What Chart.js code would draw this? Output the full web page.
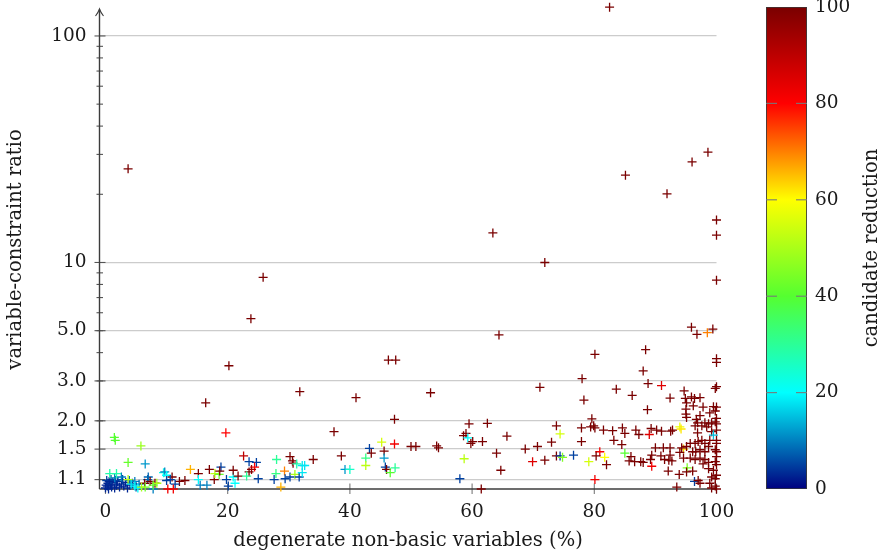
<!DOCTYPE html>
<html><head><meta charset="utf-8">
<script src="https://cdn.jsdelivr.net/npm/chart.js@4.4.1/dist/chart.umd.min.js"></script>
<style>
html,body{margin:0;padding:0;background:#fff;}
#wrap{position:relative;width:879px;height:559px;overflow:hidden;}
canvas{position:absolute;left:0;top:0;}
</style></head><body>
<div id="wrap"><canvas id="main" width="879" height="559"></canvas><canvas id="cb" width="879" height="559"></canvas></div>
<script>
// ---- data (degenerate non-basic variables %, variable-constraint ratio, candidate reduction) ----
const xValues = [
 3.7,82.5,63.4,71.9,98.6,96.0,85.1,91.9,100,100,100,95.9,96.8,98.5,99.4,88.4,88.0,100,100,25.8,23.8,20.2,16.4,19.7,31.8,64.4,80.1,46.3,47.5,53.2,41.0,71.1,78.0,78.3,
 37.4,38.6,39.2,40.0,42.6,42.6,43.2,43.5,45.2,45.6,45.6,45.8,46.0,46.6,47.4,47.3,47.3,50.0,50.8,54.2,54.5,58.0,58.6,59.0,59.3,58.7,59.5,59.8,60.1,61.7,61.5,62.5,64.0,64.7,65.7,68.7,69.9,70.7,71.9,73.0,73.8,73.8,74.4,74.4,74.8,76.6,77.9,77.9,79.1,79.6,79.4,79.9,80.1,81.5,80.9,80.3,81.7,82.0,80.1,
 83.0,83.6,83.2,84.5,84.6,85.0,85.0,86.2,85.7,86.0,86.6,86.8,87.3,87.6,88.0,88.8,88.7,89.0,89.3,89.4,89.2,89.4,90.0,90.2,91.0,91.0,90.9,91.3,91.5,92.4,92.5,92.8,92.4,92.2,92.7,92.4,92.1,93.9,93.5,94.0,94.2,94.6,94.3,95.1,94.0,94.6,95.2,96.1,95.1,96.4,97.0,97.3,
 94.7,94.9,95.9,96.4,97.3,95.1,96.2,97.8,95.0,99.5,100,98.9,97.3,95.0,95.1,100,99.8,96.7,96.9,98.1,98.7,99.2,99.8,100,96.5,97.6,98.4,96.9,99.2,100,99.8,100,99.5,
 95.7,96.5,97.0,97.6,96.1,96.6,97.3,98.1,98.1,98.7,98.9,100,100,99.8,100,100,99.8,100,99.5,100,99.2,99.8,98.9,99.8,99.2,100,95.7,96.5,97.3,98.1,97.8,98.7,98.7,
 0.0,0.3,0.5,0.8,1.0,1.2,0.4,1.5,1.8,2.0,2.3,2.6,3.0,3.3,3.6,4.0,0.2,0.9,1.6,2.8,4.4,5.0,3.9,0.1,0.6,1.5,2.6,4.8,5.5,6.9,7.0,7.8,0.7,1.8,3.7,6.4,7.3,8.1,6.5,8.4,7.8,4.8,5.3,4.2,5.9,
 1.45,1.6,5.8,3.7,6.5,13.9,15.2,17.0,17.8,17.9,18.6,18.9,18.7,13.0,12.1,11.4,9.5,9.7,10.0,10.9,10.6,10.0,10.2,11.1,15.5,16.6,15.2,
 19.8,20.1,21.2,20.9,21.7,20.9,22.6,23.5,24.7,24.4,23.9,23.5,23.1,25.0,28.0,27.9,27.6,29.3,28.7,29.4,30.2,30.6,30.7,30.2,31.0,31.7,31.3,32.2,32.6,32.2,34.0
];
const yValues = [
 25.9,134,13.5,10.0,30.7,27.8,24.3,20.1,15.4,13.2,8.35,5.18,4.82,4.90,5.08,4.12,3.32,3.76,3.62,8.6,5.65,3.50,2.40,1.77,2.69,4.79,3.93,3.71,3.71,2.66,2.53,2.81,3.07,2.47,
 1.79,1.40,1.22,1.22,1.37,1.27,1.51,1.44,1.61,1.47,1.37,1.25,1.22,1.18,1.24,2.03,1.58,1.54,1.54,1.55,1.52,1.11,1.72,1.76,1.68,1.36,1.94,1.59,1.62,1.62,1.00,1.95,1.44,1.21,1.71,1.50,1.32,1.54,1.34,1.61,1.90,1.40,1.75,1.40,1.38,1.41,1.86,1.62,1.32,2.04,1.88,1.90,1.86,1.82,1.46,1.40,1.38,1.28,1.10,
 1.81,2.76,1.64,1.57,1.86,1.76,1.44,2.59,1.33,1.39,1.32,1.82,1.74,1.32,1.31,2.92,2.24,1.74,1.85,1.41,1.35,1.26,1.52,1.82,2.86,1.80,1.40,1.52,1.35,2.52,1.80,1.82,1.52,1.34,1.33,1.41,1.20,1.16,1.02,1.88,1.84,1.50,1.52,1.54,1.45,1.37,1.24,1.20,1.19,1.08,1.09,1.06,
 2.71,2.51,2.55,2.51,2.53,2.40,2.33,2.30,2.25,2.31,2.30,2.17,2.11,2.14,2.07,2.05,2.21,2.03,1.96,1.96,1.94,1.96,1.98,1.94,1.90,1.90,1.88,1.77,1.79,1.82,2.78,2.83,1.73,
 1.59,1.59,1.62,1.64,1.46,1.46,1.49,1.46,1.59,1.54,1.64,1.64,1.59,1.49,1.46,1.39,1.32,1.28,1.21,1.15,1.13,1.11,1.06,1.03,1.01,1.00,1.37,1.35,1.37,1.35,1.29,1.31,1.23,
 1.01,1.03,1.00,1.05,1.02,1.07,1.06,1.01,1.04,1.08,1.02,1.05,1.03,1.07,1.01,1.04,1.09,1.10,1.09,1.10,1.06,1.02,1.09,1.04,1.08,1.12,1.13,1.08,1.05,1.10,1.13,1.00,1.17,1.17,1.10,1.06,1.08,1.06,1.02,1.06,1.04,1.03,1.01,1.05,1.02,
 1.69,1.64,1.55,1.31,1.29,1.22,1.17,1.22,1.10,1.17,1.16,1.25,1.20,1.09,1.08,1.05,1.18,1.19,1.15,1.13,1.10,1.09,1.00,1.00,1.04,1.04,1.10,
 1.10,1.03,1.06,1.13,1.14,1.21,1.40,1.32,1.31,1.25,1.22,1.19,1.14,1.11,1.35,1.17,1.10,1.20,1.02,1.11,1.39,1.33,1.30,1.13,1.16,1.13,1.29,1.27,1.27,1.18,1.35
];
const cValues = [
 100,100,100,100,100,100,100,100,100,100,100,100,100,70,100,100,100,100,100,100,100,100,100,80,100,100,100,100,100,100,100,100,100,100,
 100,100,12,25,32,52,5,100,55,100,12,5,100,40,30,100,82,100,100,100,100,5,100,100,20,52,100,100,100,100,100,100,100,100,100,100,85,100,100,100,100,100,55,5,45,5,100,100,55,100,100,100,100,100,82,100,60,100,82,
 100,100,100,100,100,100,40,100,100,100,100,100,100,100,100,100,100,85,100,100,100,82,100,100,85,100,100,100,100,100,100,100,100,100,100,100,100,100,100,58,62,63,100,100,100,100,45,100,100,5,100,100,
 100,100,100,100,100,100,100,100,100,100,100,100,100,100,100,100,100,100,100,100,100,100,100,100,100,100,100,100,100,100,100,100,15,
 100,100,100,100,100,100,100,100,100,100,100,100,100,100,100,100,100,100,100,100,100,100,100,100,100,100,100,100,100,100,100,100,100,
 3,3,3,3,3,3,3,3,3,3,3,3,3,3,3,3,5,5,5,5,5,5,8,3,3,10,10,10,8,8,8,10,28,28,52,100,100,100,42,50,42,20,20,18,50,
 40,40,48,42,12,66,100,100,100,52,42,5,100,100,100,5,22,10,20,100,5,5,82,82,10,10,20,
 5,5,20,20,100,100,90,5,5,80,95,100,30,5,30,32,5,70,66,5,100,100,100,5,50,5,28,18,18,18,100
];
const xTickValues = [0, 20, 40, 60, 80, 100];
const yTickValues = [1.1, 1.5, 2, 3, 5, 10, 100];
const yTickLabels = ['1.1', '1.5', '2.0', '3.0', '5.0', '10', '100'];
const yMinorValues = [2, 3, 4, 5, 6, 7, 8, 9, 20, 30, 40, 50, 60, 70, 80, 90];
const cbTickValues = [0, 20, 40, 60, 80, 100];
const cmapStops = [0, 20, 40, 60, 80, 100];
const cmapColors = [[0,0,128],[0,255,255],[85,255,48],[255,255,0],[255,0,0],[122,0,0]];

const FONT = '"DejaVu Serif", "Liberation Serif", serif';
const FS = 18.5;
const FT = 19.5;
const TXT = '#1a1a1a';

function cmap(v){
  v = Math.max(0, Math.min(100, v));
  for (let i = 0; i < cmapStops.length - 1; i++){
    if (v <= cmapStops[i+1]){
      const t = (v - cmapStops[i]) / (cmapStops[i+1] - cmapStops[i]);
      const a = cmapColors[i], b = cmapColors[i+1];
      return 'rgb(' + a.map((c,k)=>Math.round(c + (b[k]-c)*t)).join(',') + ')';
    }
  }
  return 'rgb(' + cmapColors[cmapColors.length-1].join(',') + ')';
}

const pointColors = cValues.map(cmap);
const noPad = s => { s.paddingTop = 0; s.paddingBottom = 0; s.paddingLeft = 0; s.paddingRight = 0; };

const axesPlugin = {
  id: 'axesDeco',
  beforeDatasetsDraw(chart){
    const {ctx, chartArea: a, scales: {x, y}} = chart;
    const line = (x1,y1,x2,y2)=>{ctx.beginPath();ctx.moveTo(x1,y1);ctx.lineTo(x2,y2);ctx.stroke();};
    ctx.save();
    ctx.strokeStyle = '#7a7a7a'; ctx.lineWidth = 1.1;
    xTickValues.forEach(v=>{const px = x.getPixelForValue(v); line(px, a.bottom-5.5, px, a.bottom+5);});
    ctx.strokeStyle = '#555';
    yTickValues.forEach(v=>{const py = y.getPixelForValue(v); line(a.left-5, py, a.left+6, py);});
    yMinorValues.forEach(v=>{const py = y.getPixelForValue(v); line(a.left-3, py, a.left+3.5, py);});
    ctx.strokeStyle = '#3c3c3c'; ctx.lineWidth = 1.4;
    line(a.left, a.bottom, a.right, a.bottom);
    line(a.left, a.bottom, a.left, a.top - 0.5);
    ctx.lineWidth = 1.1;
    ctx.beginPath();
    ctx.moveTo(a.left-4, a.top+6);
    ctx.quadraticCurveTo(a.left-1, a.top+2, a.left, a.top-1);
    ctx.quadraticCurveTo(a.left+1, a.top+2, a.left+4, a.top+6);
    ctx.stroke();
    ctx.restore();
  }
};

new Chart(document.getElementById('main'), {
  type: 'scatter',
  data: {
    datasets: [{
      data: xValues.map((x,i)=>({x: x, y: yValues[i]})),
      pointStyle: 'cross',
      pointRadius: 4.5,
      pointHoverRadius: 4.5,
      pointBorderWidth: 1.3,
      pointBorderColor: pointColors,
      pointBackgroundColor: pointColors,
      clip: false
    }]
  },
  options: {
    responsive: false, animation: false, devicePixelRatio: 1,
    layout: {padding: {left: 0, right: 162.5, top: 10, bottom: 0}},
    plugins: {legend: {display: false}, tooltip: {enabled: false}},
    scales: {
      x: {
        type: 'linear', min: -0.98, max: 100,
        afterBuildTicks: s => { s.ticks = xTickValues.map(v=>({value: v})); },
        afterFit: s => { s.height = 70; noPad(s); },
        grid: {display: false, drawTicks: false},
        border: {display: false},
        ticks: {font: {family: FONT, size: FS}, color: TXT, padding: 12, maxRotation: 0, autoSkip: false,
                callback: v => String(v)},
        title: {display: true, text: 'degenerate non-basic variables (%)', font: {family: FONT, size: FT}, color: TXT, padding: {top: 0, bottom: 6}}
      },
      y: {
        type: 'logarithmic', min: 1, max: 130.2,
        afterBuildTicks: s => { s.ticks = yTickValues.map(v=>({value: v})); },
        afterFit: s => { s.width = 99.5; noPad(s); },
        grid: {color: '#cccccc', lineWidth: 1.3, drawTicks: false},
        border: {display: false},
        ticks: {font: {family: FONT, size: FS}, color: TXT, padding: 13, autoSkip: false,
                callback: v => { const i = yTickValues.indexOf(v); return i >= 0 ? yTickLabels[i] : ''; }},
        title: {display: true, text: 'variable-constraint ratio', font: {family: FONT, size: FT}, color: TXT, padding: {top: 4, bottom: 0}}
      }
    }
  },
  plugins: [axesPlugin]
});

const cbPlugin = {
  id: 'cbDeco',
  afterDatasetsDraw(chart){
    const {ctx, chartArea: a, scales: {y}} = chart;
    ctx.save();
    ctx.strokeStyle = 'rgba(120,120,120,0.9)'; ctx.lineWidth = 1.2;
    cbTickValues.filter(v=>v>0 && v<100).forEach(v=>{
      const py = y.getPixelForValue(v);
      ctx.beginPath(); ctx.moveTo(a.left, py); ctx.lineTo(a.left+11, py); ctx.stroke();
      ctx.beginPath(); ctx.moveTo(a.right-11, py); ctx.lineTo(a.right, py); ctx.stroke();
    });
    ctx.translate(872, (a.top + a.bottom)/2);
    ctx.rotate(-Math.PI/2);
    ctx.fillStyle = TXT;
    ctx.font = FT + 'px ' + FONT;
    ctx.textAlign = 'center'; ctx.textBaseline = 'middle';
    ctx.fillText('candidate reduction', 0, 0);
    ctx.restore();
  }
};

new Chart(document.getElementById('cb'), {
  type: 'bar',
  data: {
    labels: ['candidate reduction'],
    datasets: [{
      data: [[cbTickValues[0], cbTickValues[cbTickValues.length-1]]],
      backgroundColor: (c) => {
        const chart = c.chart;
        if (!chart.chartArea) return 'rgba(0,0,0,0)';
        const ys = chart.scales.y;
        const g = chart.ctx.createLinearGradient(0, ys.getPixelForValue(0), 0, ys.getPixelForValue(100));
        cmapStops.forEach((s,i)=> g.addColorStop(s/100, 'rgb(' + cmapColors[i].join(',') + ')'));
        return g;
      },
      borderColor: '#3a3a3a', borderWidth: 1.2, borderSkipped: false,
      barPercentage: 1, categoryPercentage: 1
    }]
  },
  options: {
    responsive: false, animation: false, devicePixelRatio: 1,
    layout: {padding: {left: 766, right: 0, top: 7, bottom: 70}},
    plugins: {legend: {display: false}, tooltip: {enabled: false}},
    scales: {
      x: {display: false},
      y: {
        position: 'right', min: 0, max: 100,
        afterBuildTicks: s => { s.ticks = cbTickValues.map(v=>({value: v})); },
        afterFit: s => { s.width = 72; noPad(s); },
        grid: {display: false, drawTicks: false},
        border: {display: false},
        ticks: {font: {family: FONT, size: FS}, color: TXT, padding: 8, autoSkip: false}
      }
    }
  },
  plugins: [cbPlugin]
});
</script>
</body></html>
